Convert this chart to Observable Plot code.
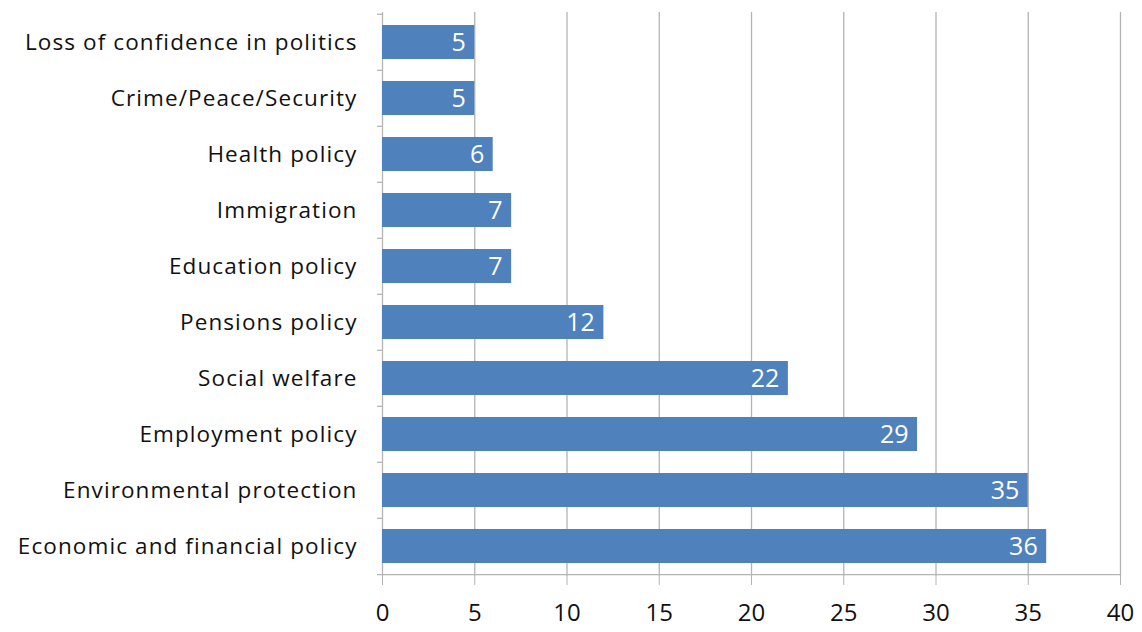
<!DOCTYPE html>
<html><head><meta charset="utf-8">
<script src="https://cdn.jsdelivr.net/npm/d3@7"></script>
<script src="https://cdn.jsdelivr.net/npm/@observablehq/plot@0.6"></script>
<style>body{margin:0;background:#fff;} svg{display:block;} g[aria-label="y-axis tick label"] text{letter-spacing:1.1px;}</style>
</head><body><div id="chart"></div>
<script>
const categories = ["Loss of confidence in politics","Crime/Peace/Security","Health policy","Immigration","Education policy","Pensions policy","Social welfare","Employment policy","Environmental protection","Economic and financial policy"];
const values = [5,5,6,7,7,12,22,29,35,36];
const xTicks = [0,5,10,15,20,25,30,35,40];

const data = categories.map((c,i)=>({category:c, value:values[i]}));
const H = 632, mt = 12, mb = 56;
const step = (H - mt - mb) / categories.length;
const grid = "#b4b4b4";
const font = "'Open Sans', sans-serif";

const chart = Plot.plot({
  width: 1142, height: H,
  marginLeft: 382, marginRight: 22, marginTop: mt, marginBottom: mb,
  style: {fontFamily: font, background: "#fff"},
  x: {domain: [0,40], ticks: xTicks, label: null},
  y: {domain: categories, paddingInner: 0.4, paddingOuter: 0.2, label: null},
  marks: [
    Plot.ruleX(xTicks, {stroke: grid, strokeWidth: 1.3}),
    Plot.ruleY(categories, {y: d=>d, dy: -step/2, x1: -0.27, x2: 0, stroke: grid, strokeWidth: 1.3}),
    Plot.ruleY([categories[categories.length-1]], {dy: step/2, x1: -0.27, x2: 40, stroke: grid, strokeWidth: 1.3}),
    Plot.barX(data, {y: "category", x: "value", fill: "#4f81bd"}),
    Plot.text(data, {y: "category", x: "value", text: d=>String(d.value), fill: "#fff", textAnchor: "end", dx: -9, fontSize: 25}),
    Plot.axisX({ticks: xTicks, tickSize: 9, tickPadding: 18, fontSize: 24, stroke: grid, color: "#111", tickFormat: d=>String(d), label: null}),
    Plot.axisY({tickSize: 0, tickPadding: 25, fontSize: 22.5, color: "#111", label: null})
  ]
});
document.getElementById("chart").append(chart);
</script></body></html>
